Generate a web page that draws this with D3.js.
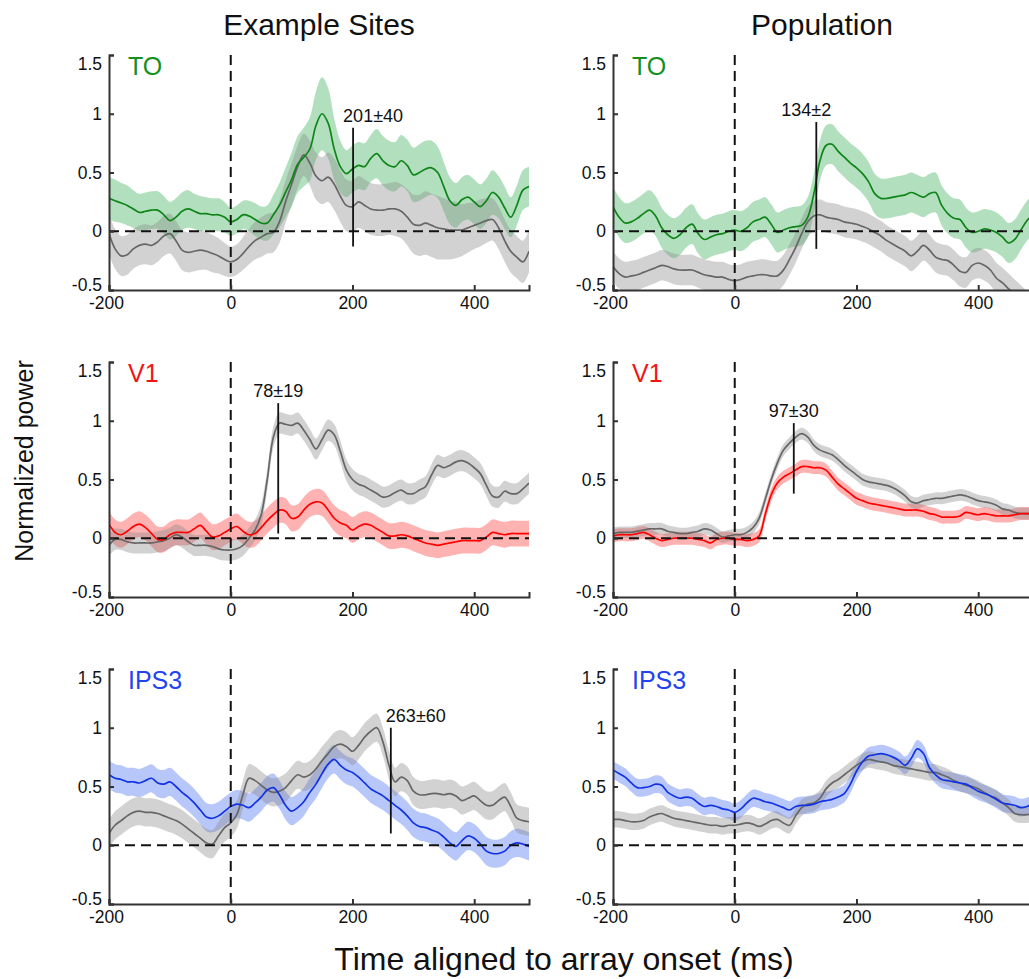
<!DOCTYPE html>
<html>
<head>
<meta charset="utf-8">
<script src="https://cdn.jsdelivr.net/npm/d3@7"></script>
<style>
  body { margin: 0; background: #fff; }
  svg { display: block; font-family: "Liberation Sans", Arial, sans-serif; }
</style>
</head>
<body>
<main></main>
<script>
// time axis in ms, one sample every 10 ms
const time = d3.range(-200, 500, 10)

const colTitles = ["Example Sites", "Population"]
const xTicks = [-200, 0, 200, 400]
const yTicks = [-0.5, 0, 0.5, 1, 1.5]

// ---- TO, example site ----
const toSiteMean = [0.28,0.26,0.24,0.22,0.19,0.16,0.17,0.18,0.18,0.14,
    0.09,0.12,0.17,0.19,0.17,0.15,0.15,0.14,0.14,0.12,
    0.08,0.10,0.14,0.13,0.10,0.07,0.07,0.14,0.22,0.33,
    0.44,0.57,0.63,0.70,0.90,1.00,0.92,0.70,0.55,0.49,
    0.53,0.56,0.55,0.62,0.66,0.60,0.56,0.55,0.60,0.56,
    0.48,0.50,0.53,0.54,0.50,0.38,0.26,0.22,0.27,0.29,
    0.25,0.21,0.26,0.33,0.29,0.20,0.12,0.22,0.35,0.38]
const toSiteSem = [0.18,0.18,0.17,0.17,0.16,0.16,0.16,0.16,0.16,0.16,
    0.16,0.16,0.16,0.16,0.15,0.15,0.14,0.14,0.14,0.13,
    0.12,0.12,0.12,0.13,0.14,0.14,0.15,0.17,0.19,0.21,
    0.23,0.24,0.25,0.27,0.29,0.31,0.30,0.26,0.22,0.20,
    0.20,0.20,0.20,0.20,0.21,0.21,0.21,0.21,0.22,0.22,
    0.23,0.24,0.24,0.23,0.22,0.21,0.20,0.19,0.19,0.19,
    0.19,0.19,0.19,0.19,0.18,0.18,0.17,0.17,0.17,0.17]
const toSiteGray = [-0.02,-0.15,-0.21,-0.20,-0.15,-0.12,-0.11,-0.12,-0.09,-0.04,
    -0.02,-0.08,-0.16,-0.18,-0.17,-0.16,-0.17,-0.19,-0.21,-0.24,
    -0.26,-0.24,-0.19,-0.13,-0.08,-0.05,-0.02,-0.01,0.08,0.25,
    0.40,0.55,0.65,0.58,0.47,0.43,0.46,0.40,0.30,0.22,
    0.21,0.25,0.22,0.19,0.18,0.18,0.19,0.19,0.17,0.12,
    0.06,0.05,0.07,0.05,0.03,0.02,0.01,0.01,0.01,0.03,
    0.05,0.07,0.09,0.10,0.03,-0.08,-0.17,-0.22,-0.26,-0.17]
const toSiteGraySem = [0.17,0.17,0.17,0.17,0.17,0.17,0.17,0.17,0.17,0.17,
    0.17,0.17,0.17,0.17,0.17,0.17,0.16,0.16,0.15,0.14,
    0.13,0.13,0.14,0.15,0.16,0.17,0.17,0.17,0.18,0.18,
    0.18,0.18,0.18,0.19,0.20,0.20,0.21,0.22,0.22,0.22,
    0.22,0.22,0.22,0.22,0.22,0.22,0.22,0.23,0.23,0.24,
    0.25,0.26,0.27,0.27,0.27,0.26,0.25,0.24,0.22,0.21,
    0.20,0.20,0.19,0.18,0.18,0.18,0.18,0.18,0.18,0.18]

// ---- TO, population ----
const toPopMean = [0.21,0.12,0.07,0.08,0.11,0.15,0.18,0.13,0.03,-0.03,
    -0.06,-0.03,0.03,0.06,-0.02,-0.07,-0.05,-0.03,-0.02,0.00,
    0.01,0.00,0.03,0.08,0.10,0.12,0.06,-0.01,0.01,0.03,
    0.04,0.05,0.12,0.32,0.60,0.73,0.74,0.68,0.63,0.58,
    0.54,0.49,0.42,0.32,0.28,0.28,0.29,0.30,0.31,0.33,
    0.31,0.29,0.32,0.33,0.22,0.15,0.11,0.10,0.03,-0.01,
    0.00,0.02,0.01,-0.01,-0.05,-0.10,-0.07,0.01,0.09,0.14]
const toPopSem = 0.17
const toPopGray = [-0.30,-0.36,-0.39,-0.38,-0.37,-0.35,-0.33,-0.31,-0.29,-0.30,
    -0.32,-0.33,-0.33,-0.33,-0.35,-0.37,-0.38,-0.39,-0.39,-0.41,
    -0.42,-0.41,-0.39,-0.38,-0.37,-0.37,-0.38,-0.38,-0.33,-0.24,
    -0.14,-0.02,0.08,0.13,0.14,0.12,0.11,0.10,0.08,0.07,
    0.06,0.04,0.02,-0.01,-0.04,-0.08,-0.11,-0.14,-0.17,-0.21,
    -0.17,-0.12,-0.16,-0.22,-0.24,-0.25,-0.29,-0.34,-0.35,-0.29,
    -0.27,-0.29,-0.33,-0.40,-0.44,-0.49,-0.54,-0.59,-0.64,-0.68]
const toPopGraySem = 0.13

// ---- V1, example site ----
const v1SiteMean = [0.12,0.05,0.03,0.06,0.10,0.12,0.09,0.04,-0.01,-0.01,
    0.03,0.05,0.05,0.05,0.08,0.11,0.06,0.01,0.02,0.05,
    0.08,0.10,0.06,0.03,0.04,0.09,0.15,0.20,0.24,0.23,
    0.17,0.18,0.24,0.29,0.31,0.30,0.24,0.17,0.13,0.11,
    0.07,0.10,0.12,0.11,0.08,0.05,0.02,0.02,0.03,0.02,
    0.00,-0.02,-0.04,-0.05,-0.06,-0.05,-0.04,-0.03,-0.02,-0.02,
    -0.02,-0.02,0.01,0.05,0.04,0.03,0.04,0.04,0.04,0.04]
const v1SiteSem = 0.11
const v1SiteGray = [-0.06,-0.01,-0.01,-0.03,-0.04,-0.04,-0.04,-0.04,-0.03,-0.02,
    0.00,0.03,0.01,-0.03,-0.06,-0.06,-0.06,-0.07,-0.09,-0.10,
    -0.10,-0.09,-0.06,0.00,0.07,0.20,0.50,0.86,0.98,0.97,
    0.96,0.98,0.92,0.84,0.76,0.84,0.92,0.88,0.74,0.58,
    0.50,0.46,0.44,0.41,0.38,0.35,0.36,0.39,0.41,0.38,
    0.38,0.41,0.44,0.54,0.62,0.60,0.62,0.65,0.66,0.64,
    0.60,0.55,0.45,0.36,0.35,0.40,0.38,0.38,0.42,0.47]
const v1SiteGraySem = 0.09

// ---- V1, population ----
const v1PopMean = [0.02,0.03,0.03,0.03,0.04,0.05,0.03,0.00,-0.02,-0.01,
    0.00,0.00,0.00,0.00,-0.01,-0.02,-0.04,-0.01,0.00,0.00,
    -0.01,-0.01,-0.02,-0.01,0.02,0.20,0.37,0.47,0.52,0.55,
    0.58,0.61,0.61,0.60,0.60,0.58,0.52,0.46,0.42,0.38,
    0.34,0.32,0.30,0.29,0.28,0.27,0.26,0.25,0.24,0.24,
    0.24,0.23,0.21,0.20,0.18,0.18,0.18,0.19,0.22,0.21,
    0.20,0.21,0.20,0.19,0.19,0.19,0.20,0.21,0.21,0.21]
const v1PopSem = 0.055
const v1PopGray = [0.04,0.05,0.05,0.05,0.06,0.07,0.08,0.08,0.08,0.06,
    0.05,0.04,0.04,0.05,0.06,0.08,0.07,0.04,0.01,0.02,
    0.03,0.03,0.05,0.09,0.17,0.33,0.50,0.64,0.75,0.81,
    0.86,0.89,0.86,0.79,0.75,0.73,0.71,0.67,0.62,0.58,
    0.54,0.50,0.48,0.47,0.46,0.45,0.43,0.40,0.36,0.31,
    0.30,0.32,0.33,0.34,0.34,0.35,0.36,0.37,0.36,0.34,
    0.32,0.31,0.30,0.28,0.25,0.24,0.22,0.21,0.21,0.21]
const v1PopGraySem = 0.05

// ---- IPS3, example site ----
const ipsSiteMean = [0.60,0.57,0.56,0.54,0.54,0.53,0.55,0.57,0.53,0.52,
    0.54,0.50,0.45,0.41,0.36,0.30,0.24,0.23,0.25,0.29,
    0.33,0.35,0.34,0.32,0.36,0.41,0.47,0.49,0.43,0.34,
    0.29,0.32,0.37,0.45,0.52,0.61,0.69,0.73,0.68,0.64,
    0.62,0.58,0.53,0.48,0.45,0.42,0.38,0.34,0.30,0.25,
    0.19,0.16,0.15,0.13,0.11,0.07,0.02,-0.01,0.04,0.08,
    0.06,0.01,-0.05,-0.07,-0.07,-0.05,0.00,0.02,0.01,-0.01]
const ipsSiteSem = 0.12
const ipsSiteGray = [0.10,0.17,0.21,0.25,0.28,0.29,0.28,0.28,0.27,0.25,
    0.23,0.21,0.18,0.14,0.10,0.06,0.02,0.01,0.08,0.15,
    0.19,0.26,0.43,0.57,0.55,0.51,0.47,0.45,0.46,0.49,
    0.55,0.60,0.58,0.60,0.65,0.72,0.78,0.84,0.86,0.84,
    0.80,0.85,0.92,0.97,1.00,0.88,0.68,0.54,0.58,0.55,
    0.46,0.43,0.43,0.44,0.44,0.43,0.44,0.42,0.38,0.40,
    0.42,0.38,0.34,0.34,0.38,0.41,0.33,0.23,0.21,0.20]
const ipsSiteGraySem = 0.12

// ---- IPS3, population ----
const ipsPopMean = [0.64,0.61,0.58,0.53,0.49,0.49,0.50,0.52,0.51,0.45,
    0.42,0.40,0.41,0.40,0.36,0.33,0.34,0.33,0.31,0.30,
    0.28,0.31,0.36,0.40,0.39,0.37,0.36,0.34,0.32,0.30,
    0.33,0.34,0.34,0.35,0.37,0.38,0.39,0.41,0.44,0.52,
    0.63,0.71,0.76,0.77,0.78,0.77,0.75,0.72,0.68,0.74,
    0.82,0.78,0.66,0.60,0.56,0.55,0.54,0.53,0.52,0.49,
    0.46,0.44,0.42,0.39,0.36,0.35,0.34,0.32,0.33,0.36]
const ipsPopSem = 0.075
const ipsPopGray = [0.22,0.22,0.21,0.20,0.20,0.21,0.24,0.26,0.27,0.25,
    0.23,0.22,0.21,0.20,0.19,0.18,0.17,0.17,0.16,0.17,
    0.17,0.18,0.19,0.18,0.16,0.18,0.21,0.22,0.19,0.17,
    0.25,0.32,0.35,0.36,0.40,0.48,0.53,0.56,0.60,0.64,
    0.68,0.71,0.73,0.72,0.71,0.70,0.68,0.67,0.66,0.65,
    0.64,0.63,0.62,0.62,0.60,0.58,0.55,0.53,0.51,0.50,
    0.48,0.45,0.42,0.40,0.36,0.32,0.27,0.26,0.26,0.27]
const ipsPopGraySem = 0.07

// latency markers: time, label, line top / bottom (normalized power)
const toSiteLatency = { t: 201, label: "201\u00b140", top: 0.88, bottom: -0.13 }
const toPopLatency = { t: 134, label: "134\u00b12", top: 0.93, bottom: -0.15 }
const v1SiteLatency = { t: 78, label: "78\u00b119", top: 1.15, bottom: 0.04 }
const v1PopLatency = { t: 97, label: "97\u00b130", top: 0.98, bottom: 0.38 }
const ipsSiteLatency = { t: 263, label: "263\u00b160", top: 1.0, bottom: 0.1 }

const colors = {
    TO: { line: "#0f8418", band: "#2aa84a", label: "#14901e" },
    V1: { line: "#ff0000", band: "#ff2a2a", label: "#f21414" },
    IPS3: { line: "#1232e6", band: "#3a64f0", label: "#1f44f0" }
}
const grayLine = "#666666"
const grayBand = "#8a8a8a"

const panels = [
    { row: 0, col: 0, region: "TO", mean: toSiteMean, sem: toSiteSem, gray: toSiteGray, graySem: toSiteGraySem, lat: toSiteLatency, labelDx: 20 },
    { row: 0, col: 1, region: "TO", mean: toPopMean, sem: toPopSem, gray: toPopGray, graySem: toPopGraySem, lat: toPopLatency, labelDx: -10 },
    { row: 1, col: 0, region: "V1", mean: v1SiteMean, sem: v1SiteSem, gray: v1SiteGray, graySem: v1SiteGraySem, lat: v1SiteLatency, labelDx: 0 },
    { row: 1, col: 1, region: "V1", mean: v1PopMean, sem: v1PopSem, gray: v1PopGray, graySem: v1PopGraySem, lat: v1PopLatency, labelDx: 0 },
    { row: 2, col: 0, region: "IPS3", mean: ipsSiteMean, sem: ipsSiteSem, gray: ipsSiteGray, graySem: ipsSiteGraySem, lat: ipsSiteLatency, labelDx: 25 },
    { row: 2, col: 1, region: "IPS3", mean: ipsPopMean, sem: ipsPopSem, gray: ipsPopGray, graySem: ipsPopGraySem, lat: null, labelDx: 0 }
]

const svgWidth = 1029
const svgHeight = 979
const colX = [109, 613]
const rowY = [55, 362, 669]
const plotW = 420
const plotH = 235

const xScale = d3.scaleLinear().domain([-200, 490]).range([0, plotW])
const yScale = d3.scaleLinear().domain([-0.5, 1.5]).range([plotH, 0])

let svg = d3.select("main")
    .append("svg")
    .attr("width", svgWidth)
    .attr("height", svgHeight)

let defs = svg.append("defs")

// column titles
svg.selectAll(".col-title")
    .data(colTitles)
    .enter()
    .append("text")
    .attr("class", "col-title")
    .attr("x", (d, i) => i === 0 ? 319 : 822)
    .attr("y", 35)
    .attr("text-anchor", "middle")
    .style("font-size", "30px")
    .attr("fill", "#111")
    .text(d => d)

// shared axis titles
svg.append("text")
    .attr("transform", "translate(33, 461) rotate(-90)")
    .attr("text-anchor", "middle")
    .style("font-size", "25px")
    .attr("fill", "#111")
    .text("Normalized power")

svg.append("text")
    .attr("x", 564)
    .attr("y", 970)
    .attr("text-anchor", "middle")
    .style("font-size", "32px")
    .attr("fill", "#111")
    .text("Time aligned to array onset (ms)")

function toRows(mean, sem) {
    return time.map((t, i) => ({
        t: t,
        m: mean[i],
        s: Array.isArray(sem) ? sem[i] : sem
    }))
}

const band = d3.area()
    .x(d => xScale(d.t))
    .y0(d => yScale(d.m - d.s))
    .y1(d => yScale(d.m + d.s))
    .curve(d3.curveCatmullRom)

const line = d3.line()
    .x(d => xScale(d.t))
    .y(d => yScale(d.m))
    .curve(d3.curveCatmullRom)

// plain hyphen for negatives, like the original figure
const tickText = d => String(d)

panels.forEach((p, k) => {
    let g = svg.append("g")
        .attr("transform", `translate(${colX[p.col]}, ${rowY[p.row]})`)

    defs.append("clipPath")
        .attr("id", "clip" + k)
        .append("rect")
        .attr("width", plotW)
        .attr("height", plotH)

    let plot = g.append("g").attr("clip-path", `url(#clip${k})`)

    let c = colors[p.region]
    let colored = toRows(p.mean, p.sem)
    let gray = toRows(p.gray, p.graySem)

    plot.append("path").attr("d", band(colored))
        .attr("fill", c.band).attr("fill-opacity", 0.36)
    plot.append("path").attr("d", band(gray))
        .attr("fill", grayBand).attr("fill-opacity", 0.38)
    plot.append("path").attr("d", line(gray))
        .attr("fill", "none").attr("stroke", grayLine).attr("stroke-width", 1.7)
    plot.append("path").attr("d", line(colored))
        .attr("fill", "none").attr("stroke", c.line).attr("stroke-width", 1.7)

    // zero lines
    plot.append("line")
        .attr("x1", 0).attr("x2", plotW)
        .attr("y1", yScale(0)).attr("y2", yScale(0))
        .attr("stroke", "#111").attr("stroke-width", 2)
        .attr("stroke-dasharray", "10,6")
    plot.append("line")
        .attr("x1", xScale(0)).attr("x2", xScale(0))
        .attr("y1", 0).attr("y2", plotH)
        .attr("stroke", "#111").attr("stroke-width", 2)
        .attr("stroke-dasharray", "10,6")

    // latency marker
    if (p.lat) {
        g.append("line")
            .attr("x1", xScale(p.lat.t)).attr("x2", xScale(p.lat.t))
            .attr("y1", yScale(p.lat.top)).attr("y2", yScale(p.lat.bottom))
            .attr("stroke", "#111").attr("stroke-width", 1.8)
        g.append("text")
            .attr("x", xScale(p.lat.t) + p.labelDx)
            .attr("y", yScale(p.lat.top) - 6)
            .attr("text-anchor", "middle")
            .style("font-size", "18px")
            .attr("fill", "#111")
            .text(p.lat.label)
    }

    // region label
    g.append("text")
        .attr("x", 19)
        .attr("y", 20)
        .style("font-size", "25px")
        .attr("fill", c.label)
        .text(p.region)

    // axes
    let leftAxis = d3.axisLeft(yScale)
        .tickValues(yTicks)
        .tickFormat(tickText)
        .tickSizeInner(-5)
        .tickSizeOuter(-5)
        .tickPadding(7)
    let yAxis = g.append("g").call(leftAxis)

    let bottomAxis = d3.axisBottom(xScale)
        .tickValues(xTicks)
        .tickFormat(tickText)
        .tickSizeInner(-5)
        .tickSizeOuter(-5)
        .tickPadding(7)
    let xAxis = g.append("g")
        .attr("transform", `translate(0, ${plotH})`)
        .call(bottomAxis)

    ;[xAxis, yAxis].forEach(a => {
        a.select(".domain").attr("stroke", "#333").attr("stroke-width", 2)
        a.selectAll(".tick line").attr("stroke", "#333").attr("stroke-width", 2)
        a.selectAll("text")
            .attr("fill", "#111")
            .style("font-size", "17.5px")
            .style("font-family", '"Liberation Sans", Arial, sans-serif')
    })

    yAxis.selectAll(".tick text")
        .attr("y", d => d === 1.5 ? 9 : (d === -0.5 ? -5 : 0))
    xAxis.selectAll(".tick text")
        .attr("x", d => d === -200 ? -3 : 0)
})
</script>
</body>
</html>
